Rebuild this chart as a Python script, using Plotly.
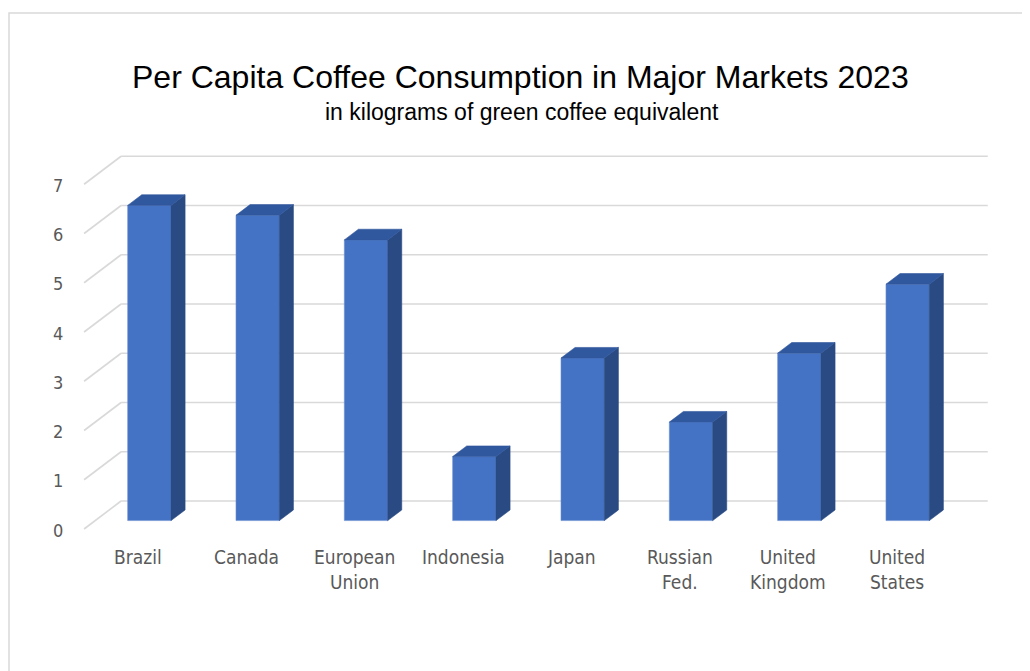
import plotly.graph_objects as go

# ---- data ----
categories = ["Brazil", "Canada", "European<br>Union", "Indonesia", "Japan",
              "Russian<br>Fed.", "United<br>Kingdom", "United<br>States"]
values = [6.4, 6.2, 5.7, 1.3, 3.3, 2.0, 3.4, 4.8]
tick_values = [0, 1, 2, 3, 4, 5, 6, 7]
tick_labels = ["0", "1", "2", "3", "4", "5", "6", "7"]
title_text = "Per Capita Coffee Consumption in Major Markets 2023"
subtitle_text = "in kilograms of green coffee equivalent"

# ---- pseudo-3D geometry (in axis units) ----
W, H = 1030, 671
OFF = 8                # page body margin
PX_X = 108.33          # pixels per category
PX_Y = 49.25           # pixels per value unit
DX = 37 / PX_X         # full depth offset (x)
DY = 28 / PX_Y         # full depth offset (y)
D_FRONT, D_BACK = 0.30, 0.68
BAR_W = 0.40

x0_px, y0_px = 138.25 - OFF, 529.0 - OFF
xmin = -x0_px / PX_X
xmax = xmin + W / PX_X
ymin = -(H - y0_px) / PX_Y
ymax = ymin + H / PX_Y

FRONT = "#4472C4"
TOP = "#30589E"
SIDE = "#294A83"
GRID = "#d9d9d9"

n = len(categories)
xs = list(range(n))

fig = go.Figure()

# front faces
fig.add_trace(go.Bar(
    x=[i + D_FRONT * DX for i in xs],
    y=values,
    base=[D_FRONT * DY] * n,
    width=BAR_W,
    marker=dict(color=FRONT, line=dict(width=0.6, color="#6a8fd0")),
    hoverinfo="skip",
))

# side and top faces
side_x, side_y, top_x, top_y = [], [], [], []
for i, v in zip(xs, values):
    l = i + D_FRONT * DX - BAR_W / 2
    r = i + D_FRONT * DX + BAR_W / 2
    b = D_FRONT * DY
    t = b + v
    ddx = (D_BACK - D_FRONT) * DX
    ddy = (D_BACK - D_FRONT) * DY
    side_x += [r, r + ddx, r + ddx, r, r, None]
    side_y += [b, b + ddy, t + ddy, t, b, None]
    top_x += [l, l + ddx, r + ddx, r, l, None]
    top_y += [t, t + ddy, t + ddy, t, t, None]

fig.add_trace(go.Scatter(x=side_x, y=side_y, mode="lines", fill="toself",
                         fillcolor=SIDE, line=dict(width=0.6, color=SIDE),
                         hoverinfo="skip"))
fig.add_trace(go.Scatter(x=top_x, y=top_y, mode="lines", fill="toself",
                         fillcolor=TOP, line=dict(width=0.6, color=TOP),
                         hoverinfo="skip"))

# gridlines (wall) as shapes below traces
shapes = []
left = -0.5
right = n - 0.5
for v in tick_values:
    shapes.append(dict(type="line", xref="x", yref="y", layer="below",
                       x0=left, y0=v, x1=left + DX, y1=v + DY,
                       line=dict(color=GRID, width=1.6)))
    shapes.append(dict(type="line", xref="x", yref="y", layer="below",
                       x0=left + DX, y0=v + DY, x1=right + DX, y1=v + DY,
                       line=dict(color=GRID, width=1.6)))
# outer frame
shapes.append(dict(type="rect", xref="paper", yref="paper",
                   x0=1 / W, y0=-0.05, x1=1.05, y1=1 - (13 - OFF) / H,
                   line=dict(color="#d9d9d9", width=1.5)))

annotations = []
for v, lab in zip(tick_values, tick_labels):
    annotations.append(dict(x=left, y=v, xref="x", yref="y", text=lab,
                            showarrow=False, xanchor="right", yanchor="middle",
                            xshift=-19, yshift=-1,
                            font=dict(family="Liberation Sans Narrow, DejaVu Sans Condensed, sans-serif",
                                      size=18, color="#595959")))
for i, c in zip(xs, categories):
    annotations.append(dict(x=i, y=0, xref="x", yref="y", text=c,
                            showarrow=False, xanchor="center", yanchor="top",
                            yshift=-15,
                            font=dict(family="Liberation Sans Narrow, DejaVu Sans Condensed, sans-serif",
                                      size=19, color="#595959")))
annotations.append(dict(x=(520 - OFF) / W, y=1 - (77 - OFF) / H,
                        xref="paper", yref="paper",
                        text=title_text, showarrow=False, xanchor="center",
                        yanchor="middle",
                        font=dict(family="Liberation Sans, Arial, sans-serif",
                                  size=32, color="#000000")))
annotations.append(dict(x=(522 - OFF) / W, y=1 - (112 - OFF) / H,
                        xref="paper", yref="paper",
                        text=subtitle_text, showarrow=False, xanchor="center",
                        yanchor="middle",
                        font=dict(family="Liberation Sans, Arial, sans-serif",
                                  size=23, color="#000000")))

fig.update_layout(
    width=W, height=H,
    margin=dict(l=0, r=0, t=0, b=0),
    paper_bgcolor="white", plot_bgcolor="white",
    showlegend=False,
    xaxis=dict(range=[xmin, xmax], visible=False, fixedrange=True),
    yaxis=dict(range=[ymin, ymax], visible=False, fixedrange=True),
    shapes=shapes,
    annotations=annotations,
)

fig.write_html("out.html")
